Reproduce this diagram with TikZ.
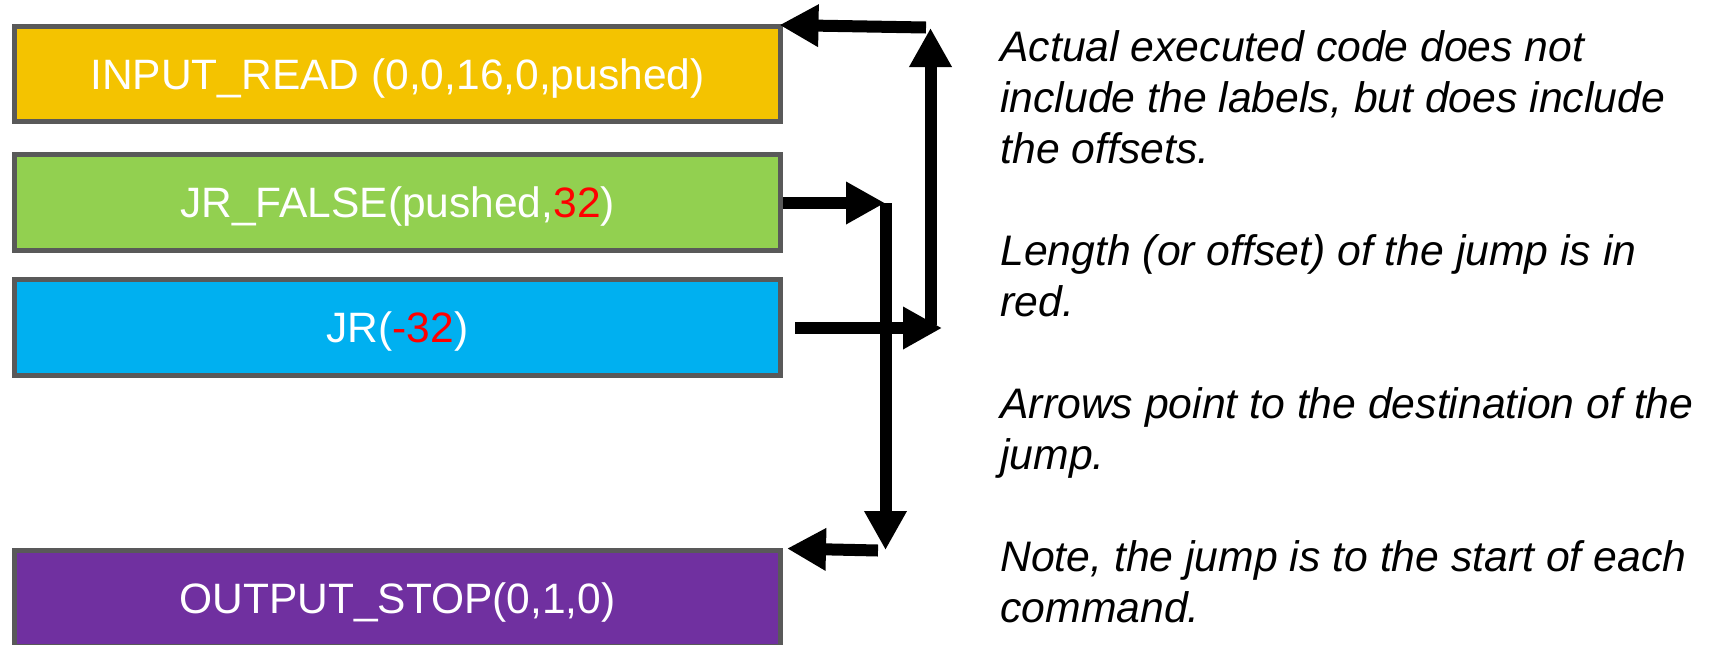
\documentclass[tikz,border=0pt]{standalone}
\usepackage{fontspec}
\setmainfont{Liberation Sans}
\usetikzlibrary{arrows.meta}
\definecolor{ygold}{HTML}{F4C300}
\definecolor{lgreen}{HTML}{92D050}
\definecolor{sblue}{HTML}{00B0F0}
\definecolor{dpurple}{HTML}{7030A0}
\definecolor{bordergray}{HTML}{595959}
\begin{document}
\begin{tikzpicture}[x=0.5pt,y=-0.5pt,
  cmd/.style={draw=bordergray, line width=2.5pt, minimum width=383pt, inner sep=0pt,
    text=white, font=\fontsize{21.25pt}{25pt}\selectfont, text height=15.2pt, text depth=0pt},
  jarrow/.style={line width=6pt, -{Triangle[length=19.5pt,width=20pt]}},
  note/.style={anchor=base west, inner sep=0pt,
    font=\itshape\fontsize{21.35pt}{25.5pt}\selectfont}
]
\useasboundingbox (0,0) rectangle (1714,644);
\fill[white] (0,0) rectangle (1714,644);

\node[cmd, fill=ygold, minimum height=47.5pt] (inp) at (397.5,74) {INPUT\_READ (0,0,16,0,pushed)};
\node[cmd, fill=lgreen, minimum height=48pt] (jrf) at (397.5,202.5) {JR\_FALSE(pushed,\textcolor{red}{32})};
\node[cmd, fill=sblue, minimum height=48pt] (jr) at (397.5,327.5) {JR(\textcolor{red}{-32})};
\node[cmd, fill=dpurple, minimum height=48pt] (outp) at (397.5,598) {OUTPUT\_STOP(0,1,0)};

\coordinate (bk) at (942,328);
\coordinate (upb) at (930.5,325);
\coordinate (upt) at (930.5,28);
\coordinate (tr) at (926,27.5);
\coordinate (gk) at (885,203);
\coordinate (gt) at (885.5,203);
\coordinate (gb) at (885.5,550);
\coordinate (br) at (878,550.5);

\draw[jarrow] ([xshift=6pt,yshift=-0.25pt]jr.east) -- (bk);
\draw[jarrow] (upb) -- (upt);
\draw[jarrow] (tr) -- ([xshift=-1.75pt,yshift=-0.5pt]inp.north east);
\draw[jarrow] ([yshift=-0.25pt]jrf.east) -- (gk);
\draw[jarrow] (gt) -- (gb);
\draw[jarrow] (br) -- ([xshift=2pt,yshift=-0.5pt]outp.north east);

\node[note] (n1) at (1000,61) {Actual executed code does not};
\node[note] (n2) at (1000,112) {include the labels, but does include};
\node[note] (n3) at (1000,163) {the offsets.};
\node[note] (n4) at (1000,265) {Length (or offset) of the jump is in};
\node[note] (n5) at (1000,316) {red.};
\node[note] (n6) at (1000,418) {Arrows point to the destination of the};
\node[note] (n7) at (1000,469) {jump.};
\node[note] (n8) at (1000,571) {Note, the jump is to the start of each};
\node[note] (n9) at (1000,622) {command.};
\end{tikzpicture}
\end{document}
